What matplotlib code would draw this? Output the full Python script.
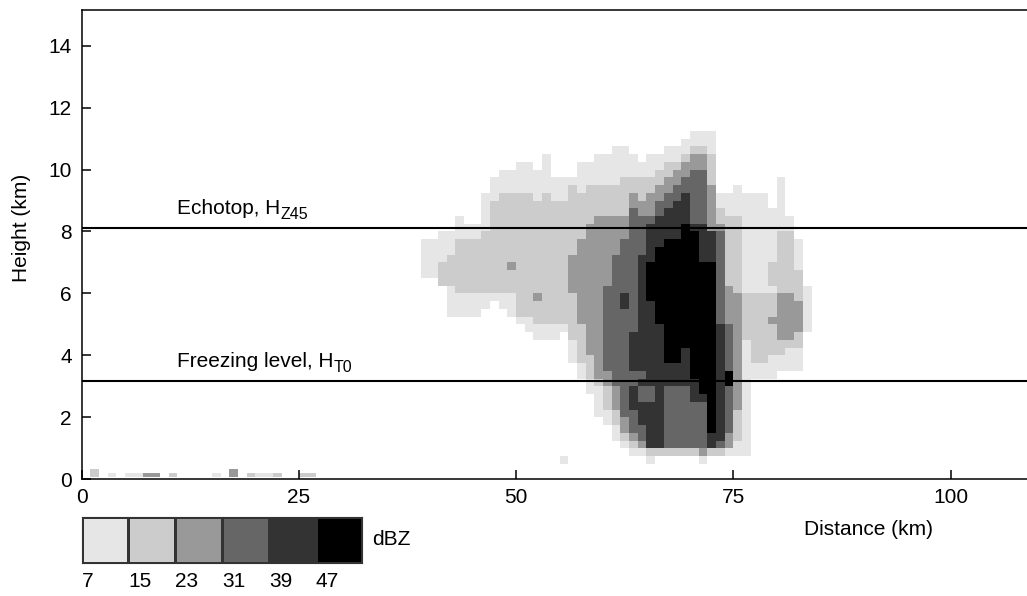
import numpy as np
import matplotlib
matplotlib.use("Agg")
import matplotlib.pyplot as plt
from matplotlib.colors import ListedColormap, BoundaryNorm

# Fuentes parecidas a Helvetica
plt.rcParams['font.family'] = ['Liberation Sans', 'DejaVu Sans']

# Niveles de reflectividad (dBZ) y grises
dbz_levels = [7, 15, 23, 31, 39, 47]
grays = ['#e6e6e6', '#cccccc', '#999999', '#666666', '#333333', '#000000']

# Alturas de referencia (km)
echotop_km = 8.11
freezing_km = 3.17

# Celdas del corte vertical: altura inferior de la fila (km) -> "dist_ini-dist_fin:nivel"
# distancia en km (celdas de 1 km), filas de 0.25 km, nivel 1..6 segun dbz_levels
rows = {
    11.00: "70-72:1",
    10.75: "69-72:1",
    10.50: "61-62:1 67-69:1 70-71:2 72:1",
    10.25: "53:1 59-63:1 65-68:1 69:2 70-71:3 72:2",
    10.00: "50-51:1 53:1 57-66:1 67-68:2 69-71:3 72:2",
    9.75: "48-53:1 57-65:1 66-67:2 68-69:3 70-71:4 72:2",
    9.50: "47-61:1 62-66:2 67-68:3 69-71:4 72:2 80:1",
    9.25: "47-55:1 56:2 57:1 58-65:2 66-67:3 68-71:4 72:3 75:1 80:1",
    9.00: "46-47:1 48-51:2 52:1 53:2 54-55:1 56-62:2 63:3 64:2 65-66:3 67-68:4 69:5 70-71:4 72:3 73-78:1 80:1",
    8.75: "46:1 47-62:2 63-65:3 66-67:4 68-69:5 70-71:4 72:3 73-78:1 80:1",
    8.50: "46:1 47-62:2 63:4 64-65:3 66:4 67-69:5 70-71:4 72:3 73:2 74-80:1",
    8.25: "43:1 46:1 47-58:2 59-62:3 63-65:4 66-69:5 70-71:4 72:3 73-75:2 76-81:1",
    8.00: "43-46:1 47-57:2 58-62:3 63-64:4 65-68:5 69:6 70-71:5 72:3 73:3 74-75:2 76-81:1",
    7.75: "41-45:1 46-57:2 58-62:3 63-64:4 65-68:5 69-70:6 71-72:5 73:4 74-75:2 76-79:1 80-81:2",
    7.50: "39-42:1 43-56:2 57-61:3 62-64:4 65-66:5 67-70:6 71-72:5 73:4 74-75:2 76-79:1 80-81:2 82:1",
    7.25: "39-42:1 43-56:2 57-61:3 62-64:4 65:5 66-70:6 71-72:5 73:4 74-75:2 76-79:1 80-81:2 82:1",
    7.00: "39-41:1 42-55:2 56-60:3 61-63:4 64-65:5 66-70:6 71-72:5 73:4 74-75:2 76-79:1 80-81:2 82:1",
    6.75: "39-40:1 41-48:2 49:3 50-55:2 56-60:3 61-63:4 64:5 65-72:6 73:4 74-75:2 76-78:1 79-81:2 82:1",
    6.50: "39-40:1 41-55:2 56-60:3 61-63:4 64:5 65-72:6 73:4 74-75:2 76-78:1 79-82:2",
    6.25: "41-55:2 56-60:3 61-63:4 64:5 65-72:6 73:4 74-75:2 76-78:1 79-82:2",
    6.00: "42:1 43-55:2 56-59:3 60-63:4 64:5 65-72:6 73:4 74:3 75:2 76-79:1 80-82:2 83:1",
    5.75: "42-49:1 50-51:2 52:3 53-56:2 57-59:3 60-61:4 62:5 63:4 64:5 65-72:6 73:4 74-75:3 76-79:2 80-81:3 82:2 83:1",
    5.50: "42-46:1 48-49:1 50-56:2 57-59:3 60-61:4 62:5 63:4 64-65:5 66-72:6 73:4 74-75:3 76-79:2 80-82:3 83:1",
    5.25: "42-45:1 49:1 50-56:2 57-59:3 60-63:4 64-65:5 66-72:6 73:4 74-75:3 76-79:2 80-82:3 83:1",
    5.00: "50-51:1 52-56:2 57-59:3 60-63:4 64-65:5 66-72:6 73:4 74-75:3 76-78:2 79:3 80-82:3 83:1",
    4.75: "51-55:1 56-57:2 58-59:3 60-63:4 64-66:5 67-72:6 73:5 74:4 75:3 76-79:2 80-82:3 83:1",
    4.50: "52-54:1 56-57:2 58-59:3 60-62:4 63-66:5 67-72:6 73:5 74:4 75:3 76-79:2 80-81:3 82:2",
    4.25: "56:1 57:2 58-59:3 60-62:4 63-66:5 67-72:6 73:5 74:4 75:3 76:1 77-82:2",
    4.00: "56:1 57:2 58-59:3 60-62:4 63-66:5 67-68:6 69:5 70-72:6 73:5 74:4 75:3 76:1 77-80:2 81-82:1",
    3.75: "56:1 57-58:2 59:3 60-62:4 63-66:5 67-68:6 69:5 70-72:6 73:5 74:4 75:3 76:1 77-78:2 79-82:1",
    3.50: "57:1 58:2 59:3 60-62:4 63-69:5 70-72:6 73:5 74:4 75:3 76-82:1",
    3.25: "57:1 58:2 59-60:3 61-64:4 65-69:5 70-72:6 73:5 74:6 75:3 76-79:1",
    3.00: "58:1 59:2 60:3 61-63:4 64-70:5 71-72:6 73:5 74:6 75:3 76:1",
    2.75: "58-59:1 60:2 61:3 62:4 63:5 64-65:4 66:5 67-69:4 70:5 71-72:6 73:5 74:4 75:3 76:1",
    2.50: "59:1 60:2 61:3 62:4 63:5 64-65:4 66:5 67-69:4 70-71:5 72:6 73:5 74:4 75:3 76:1",
    2.25: "59:1 60:2 61:3 62:4 63-66:5 67-71:4 72:6 73:5 74:4 75:3 76:1",
    2.00: "59-60:1 61:2 62-63:4 64-66:5 67-71:4 72:6 73:5 74:4 75:2 76:1",
    1.75: "60:1 61:2 62:3 63:4 64-66:5 67-71:4 72:6 73:5 74:4 75:2 76:1",
    1.50: "61:1 62:3 63-64:4 65-66:5 67-71:4 72:6 73:5 74:4 75:2 76:1",
    1.25: "61:1 62:2 63:3 64:4 65-66:5 67-71:4 72-73:5 74:3 75:2 76:1",
    1.00: "62:1 63:2 64:3 65-66:5 67-71:4 72:5 73:4 74:3 75-76:1",
    0.75: "63-64:1 65-70:2 71:3 72-73:2 74-76:1",
    0.50: "55:1 65:1 71:1",
}

# Ecos de tierra cerca del suelo (km, nivel, tope en km)
clutter_km = [1, 3, 5, 6, 7, 8, 10, 15, 17, 19, 20, 21, 22, 25, 26]
clutter_lev = [2, 1, 1, 1, 3, 3, 2, 1, 3, 2, 1, 1, 2, 2, 2]
clutter_top = [0.33, 0.19, 0.19, 0.19, 0.19, 0.19, 0.19, 0.19, 0.33, 0.19, 0.19, 0.19, 0.19, 0.19, 0.19]
clutter_base = 0.06

# Armamos la grilla
x_edges = np.arange(0, 110, 1.0)
y_edges = np.arange(0, 11.5, 0.25)
grid = np.zeros((len(y_edges) - 1, len(x_edges) - 1))
for h, spec in rows.items():
    i = int(round(h / 0.25))
    for tok in spec.split():
        rng, lev = tok.split(':')
        if '-' in rng:
            a, b = rng.split('-')
        else:
            a, b = rng, rng
        grid[i, int(a):int(b) + 1] = int(lev)

cmap = ListedColormap(grays)
norm = BoundaryNorm(np.arange(0.5, 7.5, 1), cmap.N)

fig = plt.figure(figsize=(10.27, 5.96), dpi=100)
ax = fig.add_axes([81.7 / 1027, 1 - 479.3 / 596, 1 - 81.7 / 1027, (479.3 - 10) / 596])

ax.pcolormesh(x_edges, y_edges, np.ma.masked_equal(grid, 0), cmap=cmap, norm=norm)
ax.bar(clutter_km, np.array(clutter_top) - clutter_base, bottom=clutter_base, width=1.0,
       align='edge', color=[grays[l - 1] for l in clutter_lev], linewidth=0)

ax.axhline(echotop_km, color='black', lw=1.5)
ax.axhline(freezing_km, color='black', lw=1.5)

# Etiquetas de las lineas con subindice
t1 = ax.text(10.93, 8.57, 'Echotop, H', fontsize=15, va='baseline')
ax.annotate('Z45', xy=(1, 0), xycoords=t1, xytext=(0.5, -3), textcoords='offset points',
            fontsize=11.5, va='bottom')
t2 = ax.text(10.93, 3.64, 'Freezing level, H', fontsize=15, va='baseline')
ax.annotate('T0', xy=(1, 0), xycoords=t2, xytext=(0.5, -3), textcoords='offset points',
            fontsize=11.5, va='bottom')

ax.set_xlim(0, 108.8)
ax.set_ylim(0, 15.15)
ax.set_xticks([0, 25, 50, 75, 100])
ax.set_yticks(np.arange(0, 15, 2))
ax.tick_params(direction='in', length=6.5, width=1.1, labelsize=15)
ax.tick_params(axis='x', pad=6)
ax.tick_params(axis='y', pad=7)
ax.spines['right'].set_visible(False)
for s in ['left', 'bottom', 'top']:
    ax.spines[s].set_linewidth(1.1)

ax.set_ylabel('Height (km)', fontsize=15)
ax.yaxis.set_label_coords(-0.054, 0.535)
ax.set_xlabel('Distance (km)', fontsize=15, va='center')
ax.xaxis.set_label_coords(0.832, -0.108)

# Barra de colores
cax = fig.add_axes([81.7 / 1027, 1 - 563.3 / 596, 280.6 / 1027, 46.6 / 596])
cax.pcolormesh(np.arange(7), [0, 1], [np.arange(1, 7)], cmap=cmap, norm=norm,
               edgecolors='#333333', linewidth=1.0)
cax.set_xlim(0, 6)
cax.set_ylim(0, 1)
cax.set_xticks([])
cax.set_yticks([])
for s in cax.spines.values():
    s.set_color('#333333')
for k, lev in enumerate(dbz_levels):
    cax.text(k, -0.40, str(lev), fontsize=15, ha='left', va='center', clip_on=False)
cax.text(6.2, 0.52, 'dBZ', fontsize=15, ha='left', va='center', clip_on=False)

fig.savefig('out.png', dpi=100)
